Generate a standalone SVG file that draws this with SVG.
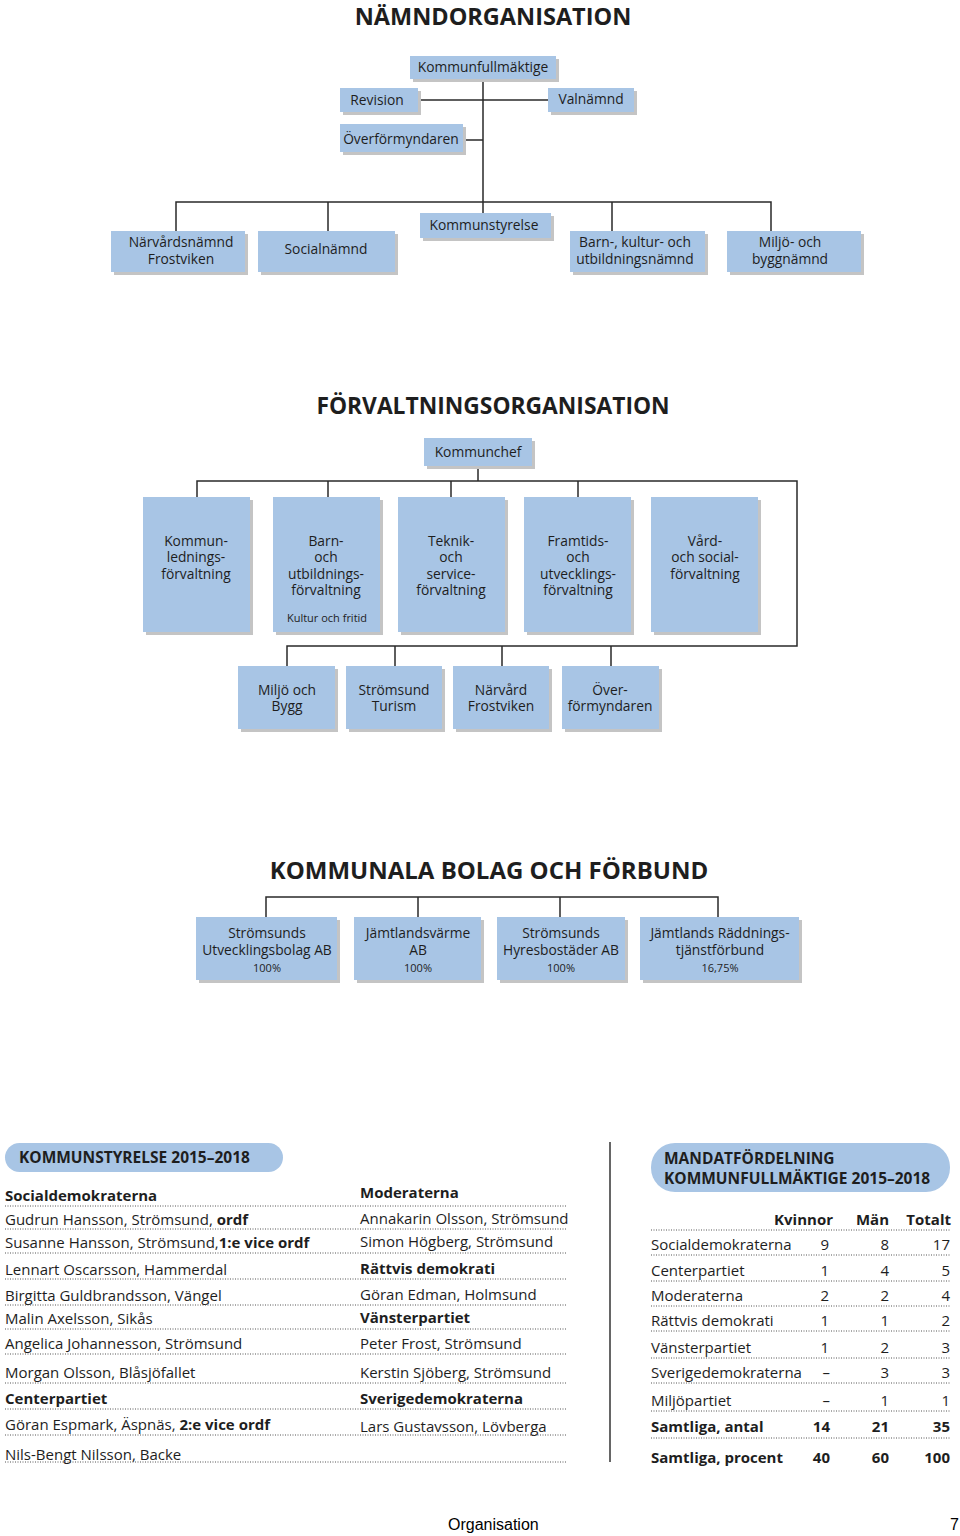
<svg xmlns="http://www.w3.org/2000/svg" width="960" height="1536" viewBox="0 0 960 1536">
<style>
text{font-family:"Open Sans","Noto Sans","DejaVu Sans",sans-serif;fill:#1e1e1e}
.box{fill:#a8c5e5}
.sh{fill:#c4c4c4}
.bt{font-size:13.8px;text-anchor:middle}
.sm{font-size:11px;text-anchor:middle}
.title{font-size:23.5px;font-weight:bold;text-anchor:middle}
.ln{stroke:#2a2a2a;stroke-width:1.5;fill:none}
.tt{font-size:15px}
.b{font-weight:bold}
.dot{stroke:#555;stroke-width:1;stroke-dasharray:1 1.5}
.pill{fill:#a8c5e5}
.r{text-anchor:end}
.foot{font-family:"Liberation Sans",Arial,sans-serif;font-size:16px;fill:#000}
</style>

<text class="title" x="493" y="25">NÄMNDORGANISATION</text>
<text class="title" x="493" y="414" style="font-size:22.8px">FÖRVALTNINGSORGANISATION</text>
<text class="title" x="489" y="879" style="font-size:24px">KOMMUNALA BOLAG OCH FÖRBUND</text>

<g id="connectors">
<path class="ln" d="M483 79V213M418 100H548M463 140H483M176 231V202H771V231M328 202V231M612 202V231"/>
<path class="ln" d="M478 466V481M197 497V481H797V646H287V666M328 481V497M451 481V497M578 481V497M395 646V666M502 646V666M611 646V666"/>
<path class="ln" d="M266 917V897H718V917M418 897V917M560 897V917"/>
<path d="M610 1142V1462" stroke="#333" stroke-width="1.5"/>
</g>

<g id="kommunfullmaktige"><rect class="sh" x="413" y="59" width="146" height="23"/><rect class="box" x="410" y="56" width="146" height="23"/><text class="bt" x="483" y="72">Kommunfullmäktige</text></g>
<g id="revision"><rect class="sh" x="343" y="91" width="78" height="24"/><rect class="box" x="340" y="88" width="78" height="24"/><text class="bt" x="377" y="105">Revision</text></g>
<g id="valnamnd"><rect class="sh" x="551" y="91" width="86" height="24"/><rect class="box" x="548" y="88" width="86" height="24"/><text class="bt" x="591" y="104">Valnämnd</text></g>
<g id="overformyndaren"><rect class="sh" x="343" y="127" width="123" height="28"/><rect class="box" x="340" y="124" width="123" height="28"/><text class="bt" x="401" y="144">Överförmyndaren</text></g>
<g id="kommunstyrelse"><rect class="sh" x="423" y="216" width="131" height="25"/><rect class="box" x="420" y="213" width="131" height="25"/><text class="bt" x="484" y="230">Kommunstyrelse</text></g>
<g id="narvardsnamnd"><rect class="sh" x="114" y="234" width="134" height="41"/><rect class="box" x="111" y="231" width="134" height="41"/><text class="bt" x="181" y="247">Närvårdsnämnd</text><text class="bt" x="181" y="264">Frostviken</text></g>
<g id="socialnamnd"><rect class="sh" x="261" y="234" width="137" height="41"/><rect class="box" x="258" y="231" width="137" height="41"/><text class="bt" x="326" y="254">Socialnämnd</text></g>
<g id="barnnamnd"><rect class="sh" x="573" y="234" width="135" height="41"/><rect class="box" x="570" y="231" width="135" height="41"/><text class="bt" x="635" y="247">Barn-, kultur- och</text><text class="bt" x="635" y="264">utbildningsnämnd</text></g>
<g id="miljonamnd"><rect class="sh" x="730" y="234" width="134" height="41"/><rect class="box" x="727" y="231" width="134" height="41"/><text class="bt" x="790" y="247">Miljö- och</text><text class="bt" x="790" y="264">byggnämnd</text></g>

<g id="kommunchef"><rect class="sh" x="427" y="441" width="108" height="28"/><rect class="box" x="424" y="438" width="108" height="28"/><text class="bt" x="478" y="457">Kommunchef</text></g>
<g id="kommunledning"><rect class="sh" x="146" y="500" width="107" height="135"/><rect class="box" x="143" y="497" width="107" height="135"/><text class="bt" x="196" y="546">Kommun-</text><text class="bt" x="196" y="562">lednings-</text><text class="bt" x="196" y="579">förvaltning</text></g>
<g id="barnforv"><rect class="sh" x="276" y="500" width="107" height="135"/><rect class="box" x="273" y="497" width="107" height="135"/><text class="bt" x="326" y="546">Barn-</text><text class="bt" x="326" y="562">och</text><text class="bt" x="326" y="579">utbildnings-</text><text class="bt" x="326" y="595">förvaltning</text><text class="sm" x="327" y="622">Kultur och fritid</text></g>
<g id="teknikforv"><rect class="sh" x="401" y="500" width="107" height="135"/><rect class="box" x="398" y="497" width="107" height="135"/><text class="bt" x="451" y="546">Teknik-</text><text class="bt" x="451" y="562">och</text><text class="bt" x="451" y="579">service-</text><text class="bt" x="451" y="595">förvaltning</text></g>
<g id="framtidsforv"><rect class="sh" x="527" y="500" width="107" height="135"/><rect class="box" x="524" y="497" width="107" height="135"/><text class="bt" x="578" y="546">Framtids-</text><text class="bt" x="578" y="562">och</text><text class="bt" x="578" y="579">utvecklings-</text><text class="bt" x="578" y="595">förvaltning</text></g>
<g id="vardforv"><rect class="sh" x="654" y="500" width="107" height="135"/><rect class="box" x="651" y="497" width="107" height="135"/><text class="bt" x="705" y="546">Vård-</text><text class="bt" x="705" y="562">och social-</text><text class="bt" x="705" y="579">förvaltning</text></g>

<g id="miljobygg"><rect class="sh" x="241" y="669" width="97" height="63"/><rect class="box" x="238" y="666" width="97" height="63"/><text class="bt" x="287" y="695">Miljö och</text><text class="bt" x="287" y="711">Bygg</text></g>
<g id="turism"><rect class="sh" x="349" y="669" width="96" height="63"/><rect class="box" x="346" y="666" width="96" height="63"/><text class="bt" x="394" y="695">Strömsund</text><text class="bt" x="394" y="711">Turism</text></g>
<g id="narvard"><rect class="sh" x="456" y="669" width="96" height="63"/><rect class="box" x="453" y="666" width="96" height="63"/><text class="bt" x="501" y="695">Närvård</text><text class="bt" x="501" y="711">Frostviken</text></g>
<g id="overform2"><rect class="sh" x="565" y="669" width="97" height="63"/><rect class="box" x="562" y="666" width="97" height="63"/><text class="bt" x="610" y="695">Över-</text><text class="bt" x="610" y="711">förmyndaren</text></g>

<g id="utvbolag"><rect class="sh" x="199" y="920" width="141" height="63"/><rect class="box" x="196" y="917" width="141" height="63"/><text class="bt" x="267" y="938">Strömsunds</text><text class="bt" x="267" y="955">Utvecklingsbolag AB</text><text class="sm" x="267" y="972">100%</text></g>
<g id="varme"><rect class="sh" x="357" y="920" width="127" height="63"/><rect class="box" x="354" y="917" width="127" height="63"/><text class="bt" x="418" y="938">Jämtlandsvärme</text><text class="bt" x="418" y="955">AB</text><text class="sm" x="418" y="972">100%</text></g>
<g id="hyres"><rect class="sh" x="500" y="920" width="128" height="63"/><rect class="box" x="497" y="917" width="128" height="63"/><text class="bt" x="561" y="938">Strömsunds</text><text class="bt" x="561" y="955">Hyresbostäder AB</text><text class="sm" x="561" y="972">100%</text></g>
<g id="raddning"><rect class="sh" x="643" y="920" width="159" height="63"/><rect class="box" x="640" y="917" width="159" height="63"/><text class="bt" x="720" y="938">Jämtlands Räddnings-</text><text class="bt" x="720" y="955">tjänstförbund</text><text class="sm" x="720" y="972">16,75%</text></g>

<g id="kommunstyrelse-list">
<rect class="pill" x="5" y="1143" width="278" height="29" rx="14.5"/>
<text class="b" x="19" y="1163" style="font-size:15.5px">KOMMUNSTYRELSE 2015–2018</text>
<g class="tt">
<text x="5" y="1201" class="b">Socialdemokraterna</text>
<text x="5" y="1225">Gudrun Hansson, Strömsund, <tspan class="b">ordf</tspan></text>
<text x="5" y="1248">Susanne Hansson, Strömsund,<tspan class="b">1:e vice ordf</tspan></text>
<text x="5" y="1275">Lennart Oscarsson, Hammerdal</text>
<text x="5" y="1301">Birgitta Guldbrandsson, Vängel</text>
<text x="5" y="1324">Malin Axelsson, Sikås</text>
<text x="5" y="1349">Angelica Johannesson, Strömsund</text>
<text x="5" y="1378">Morgan Olsson, Blåsjöfallet</text>
<text x="5" y="1404" class="b">Centerpartiet</text>
<text x="5" y="1430">Göran Espmark, Äspnäs, <tspan class="b">2:e vice ordf</tspan></text>
<text x="5" y="1460">Nils-Bengt Nilsson, Backe</text>
<text x="360" y="1198" class="b">Moderaterna</text>
<text x="360" y="1224">Annakarin Olsson, Strömsund</text>
<text x="360" y="1247">Simon Högberg, Strömsund</text>
<text x="360" y="1274" class="b">Rättvis demokrati</text>
<text x="360" y="1300">Göran Edman, Holmsund</text>
<text x="360" y="1323" class="b">Vänsterpartiet</text>
<text x="360" y="1349">Peter Frost, Strömsund</text>
<text x="360" y="1378">Kerstin Sjöberg, Strömsund</text>
<text x="360" y="1404" class="b">Sverigedemokraterna</text>
<text x="360" y="1432">Lars Gustavsson, Lövberga</text>
</g>
<path class="dot" d="M5 1206H567M5 1229H567M5 1253H567M5 1279H567M5 1305H567M5 1329H567M5 1354H567M5 1383H567M5 1409H567M5 1435H567M5 1462H567"/>
</g>

<g id="mandat">
<rect class="pill" x="651" y="1143" width="299" height="49" rx="24"/>
<text class="b" x="664" y="1164" style="font-size:15.5px">MANDATFÖRDELNING</text>
<text class="b" x="664" y="1184" style="font-size:15.5px">KOMMUNFULLMÄKTIGE 2015–2018</text>
<g class="tt">
<text class="b r" x="833" y="1225">Kvinnor</text><text class="b r" x="889" y="1225">Män</text><text class="b r" x="951" y="1225">Totalt</text>
<text x="651" y="1250">Socialdemokraterna</text><text class="r" x="829" y="1250">9</text><text class="r" x="889" y="1250">8</text><text class="r" x="950" y="1250">17</text>
<text x="651" y="1276">Centerpartiet</text><text class="r" x="829" y="1276">1</text><text class="r" x="889" y="1276">4</text><text class="r" x="950" y="1276">5</text>
<text x="651" y="1301">Moderaterna</text><text class="r" x="829" y="1301">2</text><text class="r" x="889" y="1301">2</text><text class="r" x="950" y="1301">4</text>
<text x="651" y="1326">Rättvis demokrati</text><text class="r" x="829" y="1326">1</text><text class="r" x="889" y="1326">1</text><text class="r" x="950" y="1326">2</text>
<text x="651" y="1353">Vänsterpartiet</text><text class="r" x="829" y="1353">1</text><text class="r" x="889" y="1353">2</text><text class="r" x="950" y="1353">3</text>
<text x="651" y="1378">Sverigedemokraterna</text><text class="r" x="830" y="1378">–</text><text class="r" x="889" y="1378">3</text><text class="r" x="950" y="1378">3</text>
<text x="651" y="1406">Miljöpartiet</text><text class="r" x="830" y="1406">–</text><text class="r" x="889" y="1406">1</text><text class="r" x="950" y="1406">1</text>
<text class="b" x="651" y="1432">Samtliga, antal</text><text class="b r" x="830" y="1432">14</text><text class="b r" x="889" y="1432">21</text><text class="b r" x="950" y="1432">35</text>
<text class="b" x="651" y="1463">Samtliga, procent</text><text class="b r" x="830" y="1463">40</text><text class="b r" x="889" y="1463">60</text><text class="b r" x="950" y="1463">100</text>
</g>
<path class="dot" d="M651 1230H951M651 1255H951M651 1281H951M651 1306H951M651 1331H951M651 1358H951M651 1383H951M651 1411H951M651 1438H951"/>
</g>

<text class="foot" x="448" y="1530">Organisation</text>
<text class="foot" x="950" y="1530">7</text>
</svg>
